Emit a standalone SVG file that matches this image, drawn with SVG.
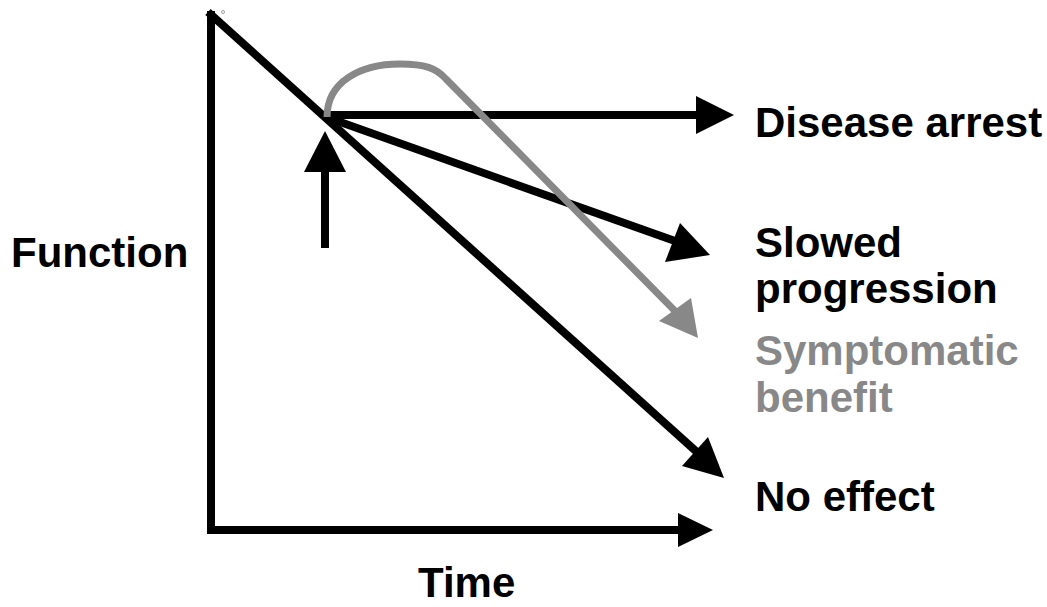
<svg xmlns="http://www.w3.org/2000/svg" width="1047" height="607" viewBox="0 0 1047 607">
<style>
.ln{stroke:#000;stroke-width:8;fill:none}
.gl{stroke:#888;stroke-width:7;fill:none}
.ah{fill:#000}
.gh{fill:#888}
.t{font-family:"Liberation Sans",Arial,sans-serif;font-weight:bold;font-size:42px;fill:#000}
.tg{fill:#888}
</style>
<rect width="1047" height="607" fill="#fff"/>
<g id="connectors">
<line class="ln" x1="211" y1="11" x2="211" y2="534"/>
<line class="ln" x1="207" y1="530" x2="680" y2="530"/>
<polygon class="ah" points="678,513 713,530 678,547"/>
<line class="ln" x1="208" y1="12" x2="698" y2="453"/>
<polygon class="ah" points="708,437 724,478 682,466"/>
<line class="ln" x1="326" y1="115" x2="698" y2="115"/>
<polygon class="ah" points="696,96 734,115 696,134"/>
<line class="ln" x1="326" y1="117" x2="675" y2="241"/>
<polygon class="ah" points="680,223 710,255 665,262"/>
<line class="ln" x1="325" y1="248" x2="325" y2="170"/>
<polygon class="ah" points="304,172 346,172 325,131"/>
<path class="gl" d="M327,117 C327,82 360,64 400,64 C425,64 436,68 446,79 L676,312"/>
<polygon class="gh" points="691,298 698,338 659,321"/>
<circle cx="223" cy="12" r="1.5" fill="none" stroke="#888" stroke-width="0.8"/>
</g>
<g id="function"><text class="t" x="11" y="267">Function</text></g>
<g id="time"><text class="t" x="418" y="597">Time</text></g>
<g id="disease-arrest"><text class="t" x="755" y="137">Disease arrest</text></g>
<g id="slowed-progression"><text class="t" x="755" y="257">Slowed</text><text class="t" x="755" y="303">progression</text></g>
<g id="symptomatic-benefit"><text class="t tg" x="755" y="365">Symptomatic</text><text class="t tg" x="755" y="412">benefit</text></g>
<g id="no-effect"><text class="t" x="755" y="511">No effect</text></g>
</svg>
